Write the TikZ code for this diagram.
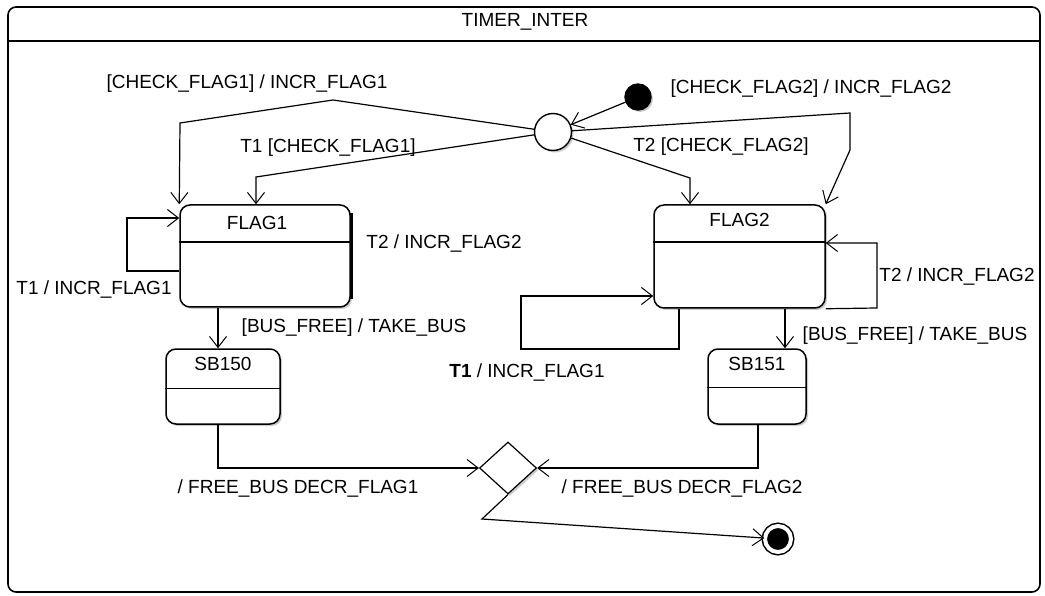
\documentclass[tikz,border=0pt]{standalone}
\usepackage{fontspec}
\setmainfont{Liberation Sans}
\usetikzlibrary{arrows.meta,shapes.geometric,shadows}

\begin{document}
\begin{tikzpicture}[
  x=1pt,y=-1pt,
  state/.style={draw,rounded corners=10pt,line width=1.5pt,fill=white,
                drop shadow={shadow xshift=2pt,shadow yshift=-2pt,fill=black!40}},
  stname/.style={font=\fontsize{19}{22}\selectfont,inner sep=0pt},
  lbl/.style={font=\fontsize{19}{22}\selectfont,inner sep=0pt,
              text height=13pt,text depth=0pt},
  pseudo/.style={draw,circle,line width=1.4pt,fill=white,inner sep=0pt,
                 drop shadow={shadow xshift=2pt,shadow yshift=-2pt,fill=black!40}},
  arr/.style={-{Straight Barb[length=11pt,width=17pt,line width=1pt]},line width=1.2pt}
]
\useasboundingbox (0,0) rectangle (1045,596);
% frame
\node[draw,rounded corners=8pt,line width=1.6pt,minimum width=1032pt,
      minimum height=585pt,inner sep=0pt] (frame) at (524,299.5) {};
\draw[line width=1.6pt] (frame.west |- 0,41) -- (frame.east |- 0,41);
\node[stname] (ttl) at (525,22) {TIMER\_INTER};
% states
\node[state,minimum width=170pt,minimum height=102pt] (flag1) at (265,256) {};
\node[state,minimum width=171pt,minimum height=103pt] (flag2) at (739.5,256.5) {};
\node[state,minimum width=114pt,minimum height=75pt] (sb150) at (223,386.5) {};
\node[state,minimum width=98pt,minimum height=75pt] (sb151) at (757,386.5) {};
\draw[line width=1.5pt] ([yshift=-38pt]flag1.north west) -- ([yshift=-38pt]flag1.north east);
\draw[line width=1.5pt] ([yshift=-38pt]flag2.north west) -- ([yshift=-38pt]flag2.north east);
\draw[line width=1.5pt] ([yshift=-40pt]sb150.north west) -- ([yshift=-40pt]sb150.north east);
\draw[line width=1.5pt] ([yshift=-39pt]sb151.north west) -- ([yshift=-39pt]sb151.north east);
\node[stname] (flag1n) at ([shift={(-8pt,-19pt)}]flag1.north) {FLAG1};
\node[stname] (flag2n) at ([yshift=-16pt]flag2.north) {FLAG2};
\node[stname] (sb150n) at ([yshift=-16pt]sb150.north) {SB150};
\node[stname] (sb151n) at ([yshift=-16pt]sb151.north) {SB151};
% pseudo states
\node[pseudo,fill=black,minimum size=26pt] (init) at (638,97) {};
\node[pseudo,minimum size=37pt] (junc) at (553,132) {};
\node[draw,diamond,line width=1.2pt,fill=white,minimum width=57pt,minimum height=52pt,
      inner sep=0pt,drop shadow={shadow xshift=2pt,shadow yshift=-2pt,fill=black!40}]
      (dia) at (508,468) {};
\node[pseudo,fill=black,minimum size=26pt,double=white,double distance=4pt,
      line width=1.5pt] (final) at (778,539) {};
% transitions
\draw[arr] (init) -- (junc);
\draw[arr] (junc) -- (333,100) -- (180,123) -- (flag1.north west);
\draw[arr] (junc) -- (256,177) -- (flag1.north -| 256,177);
\draw[arr] (junc) -- (690,178) -- (flag2.north -| 690,178);
\draw[arr] (junc) -- (850,113) -- (850,150) -- (flag2.north east);
\draw[arr] (flag1.west |- 0,271) -- (127,271) -- (127,218) -- (flag1.west |- 0,218);
\draw[line width=2.8pt] ([shift={(0.8pt,-9pt)}]flag1.north east) -- ([shift={(0.8pt,9pt)}]flag1.south east);
\draw[arr] (flag2.south east) -- (877,308) -- (877,243) -- (flag2.east |- 0,243);
\draw[arr] (flag2.south -| 679,0) -- (679,349) -- (521,349) -- (521,296) -- (flag2.west |- 0,296);
\draw[arr] (flag1.south -| 218,0) -- (sb150.north -| 218,0);
\draw[arr] (flag2.south -| 785,0) -- (sb151.north -| 785,0);
\draw[arr] (sb150.south -| 218,0) -- (218,468) -- (dia.west);
\draw[arr] (sb151.south -| 758,0) -- (758,468) -- (dia.east);
\draw[arr] (dia.south) -- (482,519) -- (final);
% labels
\node[lbl] (l1) at (247,82) {[CHECK\_FLAG1] / INCR\_FLAG1};
\node[lbl] (l2) at (328,146) {T1 [CHECK\_FLAG1]};
\node[lbl] (l3) at (811,87) {[CHECK\_FLAG2] / INCR\_FLAG2};
\node[lbl] (l4) at (721,145) {T2 [CHECK\_FLAG2]};
\node[lbl] (l5) at (444,242) {T2 / INCR\_FLAG2};
\node[lbl] (l6) at (94,288) {T1 / INCR\_FLAG1};
\node[lbl] (l7) at (354,326) {[BUS\_FREE] / TAKE\_BUS};
\node[lbl] (l8) at (527,371) {\textbf{T1} / INCR\_FLAG1};
\node[lbl] (l9) at (957,275) {T2 / INCR\_FLAG2};
\node[lbl] (l10) at (915,334) {[BUS\_FREE] / TAKE\_BUS};
\node[lbl] (l11) at (298,487) {/ FREE\_BUS DECR\_FLAG1};
\node[lbl] (l12) at (682,487) {/ FREE\_BUS DECR\_FLAG2};
\end{tikzpicture}
\end{document}
